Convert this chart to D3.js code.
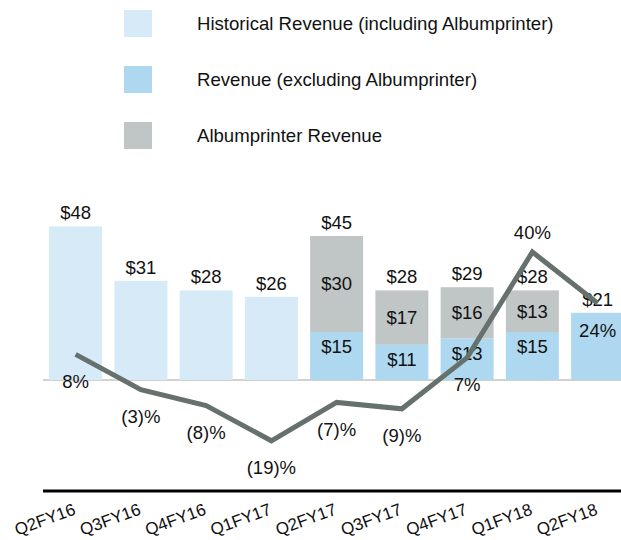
<!DOCTYPE html>
<html>
<head>
<meta charset="utf-8">
<script src="https://cdn.jsdelivr.net/npm/d3@7"></script>
<style>
  body { margin: 0; background: #fff; }
  svg { font-family: "Liberation Sans", Arial, sans-serif; }
</style>
</head>
<body>
<div class="chart"></div>
<script>
// values
const quarters = ['Q2FY16', 'Q3FY16', 'Q4FY16', 'Q1FY17', 'Q2FY17', 'Q3FY17', 'Q4FY17', 'Q1FY18', 'Q2FY18'];
const historical = [48, 31, 28, 26, null, null, null, null, null];
const excluding = [null, null, null, null, 15, 11, 13, 15, 21];
const albumprinter = [null, null, null, null, 30, 17, 16, 13, null];
const growth = [8, -3, -8, -19, -7, -9, 7, 40, 24];
const growthLabels = ['8%', '(3)%', '(8)%', '(19)%', '(7)%', '(9)%', '7%', '40%', '24%'];

const legendItems = [
  { name: 'Historical Revenue (including Albumprinter)', color: '#d6eaf7' },
  { name: 'Revenue (excluding Albumprinter)', color: '#aed8f0' },
  { name: 'Albumprinter Revenue', color: '#c0c5c5' }
];

const width = 621;
const height = 540;

let svg = d3.select('.chart').append('svg')
  .attr('width', width)
  .attr('height', height);

let x = d3.scaleBand()
  .domain(quarters)
  .range([43, 630.25])
  .paddingInner(0.188)
  .paddingOuter(0.094);

// dollars and percent share the same vertical step on the slide
let y = d3.scaleLinear()
  .domain([-30, 50])
  .range([476, 220]);

// legend
let legend = svg.append('g');
legend.selectAll('rect')
  .data(legendItems)
  .enter()
  .append('rect')
  .attr('x', 124)
  .attr('y', (d, i) => 10 + i * 56)
  .attr('width', 28)
  .attr('height', 27)
  .attr('fill', d => d.color);
legend.selectAll('text')
  .data(legendItems)
  .enter()
  .append('text')
  .attr('x', 197)
  .attr('y', (d, i) => 23.5 + i * 56)
  .attr('dy', '0.35em')
  .attr('font-size', 18.6)
  .attr('fill', '#111')
  .text(d => d.name);

let rows = quarters.map((q, i) => ({
  q: q,
  hist: historical[i],
  ex: excluding[i],
  ap: albumprinter[i],
  total: historical[i] != null ? historical[i] : (excluding[i] || 0) + (albumprinter[i] || 0),
  growth: growth[i],
  label: growthLabels[i]
}));

// zero line
svg.append('line')
  .attr('x1', 43)
  .attr('x2', width)
  .attr('y1', y(0))
  .attr('y2', y(0))
  .attr('stroke', '#a3a3a3')
  .attr('stroke-width', 1);

let bars = svg.append('g');

bars.selectAll('.hist')
  .data(rows.filter(d => d.hist != null))
  .enter()
  .append('rect')
  .attr('x', d => x(d.q))
  .attr('y', d => y(d.hist))
  .attr('width', x.bandwidth())
  .attr('height', d => y(0) - y(d.hist))
  .attr('fill', legendItems[0].color);

bars.selectAll('.ex')
  .data(rows.filter(d => d.ex != null))
  .enter()
  .append('rect')
  .attr('x', d => x(d.q))
  .attr('y', d => y(d.ex))
  .attr('width', x.bandwidth())
  .attr('height', d => y(0) - y(d.ex))
  .attr('fill', legendItems[1].color);

bars.selectAll('.ap')
  .data(rows.filter(d => d.ap != null))
  .enter()
  .append('rect')
  .attr('x', d => x(d.q))
  .attr('y', d => y(d.ex + d.ap))
  .attr('width', x.bandwidth())
  .attr('height', d => y(d.ex) - y(d.ex + d.ap))
  .attr('fill', legendItems[2].color);

let labels = svg.append('g')
  .attr('font-size', 18.5)
  .attr('fill', '#111')
  .attr('text-anchor', 'middle');

let cx = d => x(d.q) + x.bandwidth() / 2;

labels.selectAll('.total')
  .data(rows)
  .enter()
  .append('text')
  .attr('x', cx)
  .attr('y', d => y(d.total) - 7)
  .text(d => '$' + d.total);

let split = rows.filter(d => d.ap != null);

labels.selectAll('.aplabel')
  .data(split)
  .enter()
  .append('text')
  .attr('x', cx)
  .attr('y', d => (y(d.ex) + y(d.ex + d.ap)) / 2)
  .attr('dy', '0.35em')
  .text(d => '$' + d.ap);

labels.selectAll('.exlabel')
  .data(split)
  .enter()
  .append('text')
  .attr('x', cx)
  .attr('y', d => y(d.ex) + 15)
  .attr('dy', '0.35em')
  .text(d => '$' + d.ex);

// growth line
let line = d3.line()
  .x(cx)
  .y(d => y(d.growth));

svg.append('path')
  .datum(rows)
  .attr('d', line)
  .attr('fill', 'none')
  .attr('stroke', '#66706d')
  .attr('stroke-width', 5)
  .attr('stroke-linejoin', 'miter');

labels.selectAll('.growth')
  .data(rows)
  .enter()
  .append('text')
  .attr('x', cx)
  .attr('y', d => d.growth >= 30 ? y(d.growth) - 19 : y(d.growth) + 27)
  .attr('dy', '0.35em')
  .text(d => d.label);

// x axis
let xAxis = svg.append('g')
  .attr('transform', 'translate(0,491)')
  .call(d3.axisBottom(x).tickSize(0));

xAxis.select('.domain')
  .attr('stroke', '#000')
  .attr('stroke-width', 3)
  .attr('d', 'M43,0H' + width);

xAxis.selectAll('.tick text')
  .attr('x', 0)
  .attr('y', 0)
  .attr('dy', 0)
  .attr('transform', 'translate(1,23) rotate(-20)')
  .attr('font-size', 17)
  .attr('font-family', '"Liberation Sans", Arial, sans-serif')
  .attr('fill', '#111')
  .attr('text-anchor', 'end');
</script>
</body>
</html>
